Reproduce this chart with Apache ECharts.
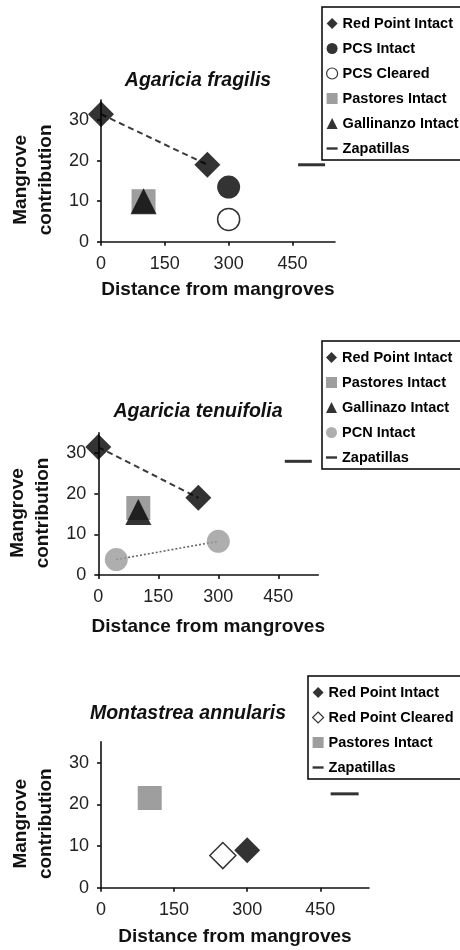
<!DOCTYPE html>
<html><head><meta charset="utf-8">
<script src="https://cdn.jsdelivr.net/npm/echarts@6/dist/echarts.min.js"></script>
<style>html,body{margin:0;padding:0;background:#fff}#c{width:460px;height:950px}</style>
</head><body><div id="c"></div>
<script>
// ---- data ----
const titles = ['Agaricia fragilis', 'Agaricia tenuifolia', 'Montastrea annularis'];
const xTicks = [0, 150, 300, 450];
const yTicks = [0, 10, 20, 30];
const xAxisName = 'Distance from mangroves';
const yAxisName = 'Mangrove\ncontribution';

// Panel 1: Agaricia fragilis
const p1RedPointIntactX = [0, 250];
const p1RedPointIntactY = [31.5, 19];
const p1PcsIntactX = [300];
const p1PcsIntactY = [13.5];
const p1PcsClearedX = [300];
const p1PcsClearedY = [5.5];
const p1PastoresX = [100];
const p1PastoresY = [10];
const p1GallinanzoX = [100];
const p1GallinanzoY = [10];
const p1ZapatillasX = [495];
const p1ZapatillasY = [19];

// Panel 2: Agaricia tenuifolia
const p2RedPointIntactX = [0, 250];
const p2RedPointIntactY = [31.5, 19];
const p2PastoresX = [100];
const p2PastoresY = [16.5];
const p2GallinazoX = [100];
const p2GallinazoY = [15.5];
const p2PcnIntactX = [45, 300];
const p2PcnIntactY = [3.8, 8.3];
const p2ZapatillasX = [500];
const p2ZapatillasY = [28];

// Panel 3: Montastrea annularis
const p3RedPointIntactX = [300];
const p3RedPointIntactY = [9];
const p3RedPointClearedX = [250];
const p3RedPointClearedY = [7.7];
const p3PastoresX = [100];
const p3PastoresY = [21.5];
const p3ZapatillasX = [500];
const p3ZapatillasY = [22.5];

// ---- rendering ----
const FF = '"Liberation Sans", Arial, sans-serif';
const pts = (xs, ys) => xs.map((x, i) => [x, ys[i]]);
const chart = echarts.init(document.getElementById('c'), null, {renderer: 'canvas'});

const grids = [
  {left: 98.3, top: 100, width: 236.7, height: 141.7},
  {left: 98.3, top: 432.9, width: 220, height: 142.1},
  {left: 100, top: 741.7, width: 269, height: 146}
];
const xNameGap = [39, 42, 40];

function xAx(i) {
  return {
    type: 'value', gridIndex: i, min: 0, max: 550, interval: 150,
    name: xAxisName, nameLocation: 'middle', nameGap: xNameGap[i],
    nameTextStyle: {fontFamily: FF, fontSize: 19, fontWeight: 'bold', color: '#111'},
    axisLine: {show: true, lineStyle: {color: '#111', width: 1.6}},
    axisTick: {show: true, length: 4, lineStyle: {color: '#111', width: 1.6}, customValues: xTicks},
    axisLabel: {fontFamily: FF, fontSize: 18, color: '#222', margin: 13, customValues: xTicks},
    splitLine: {show: false}
  };
}
function yAx(i) {
  return {
    type: 'value', gridIndex: i, min: 0, max: 35, interval: 10,
    name: yAxisName, nameLocation: 'middle', nameRotate: 90, nameGap: 43,
    nameTextStyle: {fontFamily: FF, fontSize: 19, fontWeight: 'bold', color: '#111', lineHeight: 25, align: 'center', padding: [0, 18, 0, 0]},
    axisLine: {show: true, onZero: false, lineStyle: {color: '#111', width: 1.6}},
    axisTick: {show: true, length: 4, lineStyle: {color: '#111', width: 1.6}, customValues: yTicks},
    axisLabel: {fontFamily: FF, fontSize: 18, color: '#222', margin: 12, customValues: yTicks},
    splitLine: {show: false}
  };
}

const BLACK = '#000';
const GRAY_SQ = '#868686';
const GRAY_CI = '#9a9a9a';
const SZ = 26;
const dashIcon = 'path://M0,0L12,0L12,2.6L0,2.6Z';

function sc(name, gi, data, symbol, size, itemStyle, z) {
  return {type: 'scatter', name, xAxisIndex: gi, yAxisIndex: gi, data, symbol, symbolSize: size,
    itemStyle, z: z || 3, emphasis: {disabled: true}, silent: true};
}
function ln(gi, data, style) {
  return {type: 'line', name: '_line' + gi, xAxisIndex: gi, yAxisIndex: gi, data, symbol: 'none',
    lineStyle: style, z: 2, silent: true};
}

const series = [
  // panel 1
  ln(0, pts(p1RedPointIntactX, p1RedPointIntactY), {color: '#3a3a3a', width: 2, type: [6, 4]}),
  sc('Red Point Intact', 0, pts(p1RedPointIntactX, p1RedPointIntactY), 'diamond', SZ, {color: BLACK}),
  sc('PCS Intact', 0, pts(p1PcsIntactX, p1PcsIntactY), 'circle', 23, {color: BLACK}),
  sc('PCS Cleared', 0, pts(p1PcsClearedX, p1PcsClearedY), 'circle', 22, {color: '#fff', borderColor: BLACK, borderWidth: 1.5}),
  sc('Pastores Intact', 0, pts(p1PastoresX, p1PastoresY), 'rect', 24, {color: GRAY_SQ}),
  sc('Gallinanzo Intact', 0, pts(p1GallinanzoX, p1GallinanzoY), 'triangle', 26, {color: BLACK}),
  sc('Zapatillas', 0, pts(p1ZapatillasX, p1ZapatillasY), 'rect', [27, 3], {color: BLACK}),
  // panel 2
  ln(1, pts(p2RedPointIntactX, p2RedPointIntactY), {color: '#3a3a3a', width: 2, type: [6, 4]}),
  ln(1, pts(p2PcnIntactX, p2PcnIntactY), {color: '#666', width: 1.6, type: [2, 2]}),
  sc('Red Point Intact', 1, pts(p2RedPointIntactX, p2RedPointIntactY), 'diamond', SZ, {color: BLACK}),
  sc('Pastores Intact', 1, pts(p2PastoresX, p2PastoresY), 'rect', 24, {color: GRAY_SQ}),
  sc('Gallinazo Intact', 1, pts(p2GallinazoX, p2GallinazoY), 'triangle', 26, {color: BLACK}),
  sc('PCN Intact', 1, pts(p2PcnIntactX, p2PcnIntactY), 'circle', 23, {color: GRAY_CI}),
  sc('Zapatillas', 1, pts(p2ZapatillasX, p2ZapatillasY), 'rect', [27, 3], {color: BLACK}),
  // panel 3
  sc('Red Point Intact', 2, pts(p3RedPointIntactX, p3RedPointIntactY), 'diamond', SZ, {color: BLACK}),
  sc('Red Point Cleared', 2, pts(p3RedPointClearedX, p3RedPointClearedY), 'diamond', SZ, {color: '#fff', borderColor: BLACK, borderWidth: 1.5}),
  sc('Pastores Intact', 2, pts(p3PastoresX, p3PastoresY), 'rect', 24, {color: GRAY_SQ}),
  sc('Zapatillas', 2, pts(p3ZapatillasX, p3ZapatillasY), 'rect', [28, 3], {color: BLACK})
];

const legendText = {fontFamily: FF, fontSize: 14.5, fontWeight: 'bold', color: '#000', lineHeight: 15};
function leg(left, top, data) {
  return {orient: 'vertical', left, top, data, itemWidth: 11, itemHeight: 11, itemGap: 10,
    padding: [9, 60, 4, 4], borderColor: '#000', borderWidth: 1.5, backgroundColor: '#fff',
    textStyle: legendText, selectedMode: false, z: 10};
}
const L = {
  rpi: {name: 'Red Point Intact', icon: 'diamond', itemStyle: {color: BLACK, borderWidth: 0}},
  rpc: {name: 'Red Point Cleared', icon: 'diamond', itemStyle: {color: '#fff', borderColor: BLACK, borderWidth: 1.2}},
  pcsi: {name: 'PCS Intact', icon: 'circle', itemStyle: {color: BLACK, borderWidth: 0}},
  pcsc: {name: 'PCS Cleared', icon: 'circle', itemStyle: {color: '#fff', borderColor: BLACK, borderWidth: 1.2}},
  pas: {name: 'Pastores Intact', icon: 'rect', itemStyle: {color: GRAY_SQ, borderWidth: 0}},
  gal1: {name: 'Gallinanzo Intact', icon: 'triangle', itemStyle: {color: BLACK, borderWidth: 0}},
  gal2: {name: 'Gallinazo Intact', icon: 'triangle', itemStyle: {color: BLACK, borderWidth: 0}},
  pcn: {name: 'PCN Intact', icon: 'circle', itemStyle: {color: GRAY_CI, borderWidth: 0}},
  zap: {name: 'Zapatillas', icon: dashIcon, itemStyle: {color: BLACK, borderWidth: 0}}
};

const titleStyle = {fontFamily: FF, fontSize: 19.5, fontWeight: 'bold', fontStyle: 'italic', color: '#111'};
const option = {
  animation: false,
  backgroundColor: '#fff',
  title: [
    {text: titles[0], left: 198, top: 71, textAlign: 'center', textStyle: titleStyle, padding: 0},
    {text: titles[1], left: 198, top: 402, textAlign: 'center', textStyle: titleStyle, padding: 0},
    {text: titles[2], left: 188, top: 704, textAlign: 'center', textStyle: titleStyle, padding: 0}
  ],
  legend: [
    leg(322, 7, [L.rpi, L.pcsi, L.pcsc, L.pas, L.gal1, L.zap]),
    leg(322, 341, [L.rpi, L.pas, L.gal2, L.pcn, L.zap]),
    leg(308, 676, [L.rpi, L.rpc, L.pas, L.zap])
  ],
  grid: grids,
  xAxis: [xAx(0), xAx(1), xAx(2)],
  yAxis: [yAx(0), yAx(1), yAx(2)],
  series
};
chart.setOption(option);
</script></body></html>
